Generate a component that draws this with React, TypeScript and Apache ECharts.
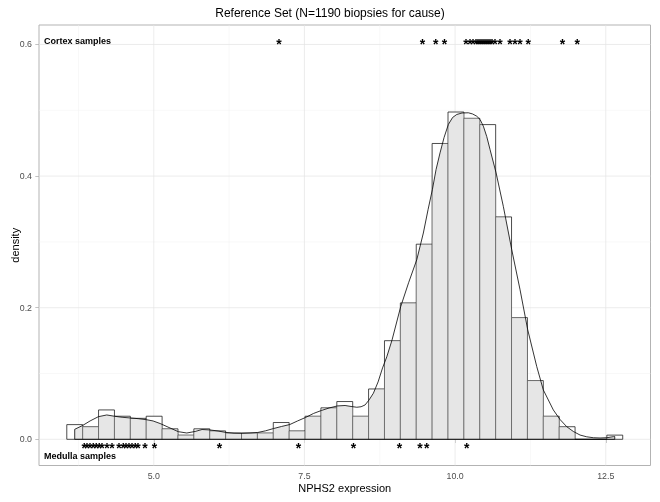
import React, { useEffect, useRef } from "react";
import * as echarts from "echarts";

const FONT = '"Liberation Sans", Arial, Helvetica, sans-serif';
const TITLE = "Reference Set (N=1190 biopsies for cause)";
const X_NAME = "NPHS2 expression";
const Y_NAME = "density";
const CORTEX_LABEL = "Cortex samples";
const MEDULLA_LABEL = "Medulla samples";

// histogram (counts per bin), N from the title
const N_SAMPLES = 1190;
const BIN_START = 3.5565;
const BIN_WIDTH = 0.26357;
const binCounts = [7, 6, 14, 11, 10, 11, 5, 2, 5, 4, 3, 3, 3, 8, 4, 11, 15, 18, 11, 24, 47, 65, 93, 141, 156, 153, 150, 106, 58, 28, 11, 6, 0, 0, 2];

// kernel density estimate
const densityX = [3.688, 3.819, 3.943, 4.081, 4.22, 4.35, 4.474, 4.615, 4.74, 4.877, 4.988, 5.105, 5.27, 5.407, 5.548, 5.685, 5.801, 5.934, 6.067, 6.2, 6.332, 6.465, 6.598, 6.726, 6.855, 6.988, 7.12, 7.258, 7.386, 7.519, 7.651, 7.781, 7.909, 8.046, 8.174, 8.274, 8.368, 8.44, 8.506, 8.572, 8.644, 8.722, 8.796, 8.866, 8.954, 9.098, 9.228, 9.364, 9.473, 9.551, 9.623, 9.684, 9.75, 9.817, 9.888, 9.958, 10.027, 10.115, 10.22, 10.29, 10.359, 10.414, 10.469, 10.525, 10.58, 10.68, 10.8, 10.94, 11.078, 11.205, 11.355, 11.464, 11.63, 11.741, 11.852, 11.962, 12.073, 12.184, 12.294, 12.405, 12.516, 12.626, 12.649];
const densityY = [0.0152, 0.021, 0.0279, 0.0344, 0.037, 0.035, 0.0335, 0.0324, 0.0314, 0.0298, 0.0279, 0.024, 0.0172, 0.0116, 0.0096, 0.0119, 0.0149, 0.0142, 0.0126, 0.0104, 0.0093, 0.0091, 0.0096, 0.0104, 0.0129, 0.0164, 0.0195, 0.0225, 0.0279, 0.0332, 0.0393, 0.0438, 0.0476, 0.0507, 0.0514, 0.0499, 0.0487, 0.0495, 0.0522, 0.0598, 0.07, 0.0872, 0.1085, 0.1253, 0.1511, 0.2018, 0.2379, 0.2729, 0.3135, 0.349, 0.3795, 0.4099, 0.4353, 0.4586, 0.4784, 0.489, 0.4936, 0.4959, 0.4962, 0.4944, 0.491, 0.486, 0.4758, 0.4601, 0.4403, 0.4049, 0.354, 0.2881, 0.2272, 0.1664, 0.1105, 0.075, 0.0446, 0.0301, 0.0192, 0.0119, 0.0065, 0.0038, 0.0024, 0.002, 0.0024, 0.004, 0.0042];

// sample markers
const cortexX = [7.079, 9.457, 9.679, 9.822, 10.182, 10.248, 10.298, 10.348, 10.381, 10.414, 10.447, 10.48, 10.513, 10.546, 10.58, 10.613, 10.663, 10.746, 10.912, 10.995, 11.078, 11.215, 11.78, 12.028];
const medullaX = [3.844, 3.893, 3.943, 3.993, 4.043, 4.093, 4.142, 4.225, 4.308, 4.424, 4.491, 4.54, 4.59, 4.64, 4.69, 4.739, 4.855, 5.01, 6.088, 7.399, 8.312, 9.075, 9.418, 9.53, 10.193];
const CORTEX_Y = 0.6;
const MEDULLA_Y = -0.0125;

// axes
const X_MIN = 3.0953;
const X_MAX = 13.2423;
const Y_MIN = -0.0398;
const Y_MAX = 0.6296;
const xTicks = [5, 7.5, 10, 12.5];
const yTicks = [0, 0.2, 0.4, 0.6];
const xMinor = [3.75, 6.25, 8.75, 11.25];
const yMinor = [0.1, 0.3, 0.5];

const bins = binCounts.map((c, i) => [
  BIN_START + i * BIN_WIDTH,
  BIN_START + (i + 1) * BIN_WIDTH,
  c / (N_SAMPLES * BIN_WIDTH),
]);

const densityPoly: number[][] = [
  [densityX[0], 0],
  ...densityX.map((x, i) => [x, densityY[i]]),
  [densityX[densityX.length - 1], 0],
];

function curveProfile(a: number, b: number): number[][] {
  const out: number[][] = [];
  const first = densityPoly[0][0];
  const last = densityPoly[densityPoly.length - 1][0];
  if (a < first) out.push([a, 0]);
  for (let i = 0; i < densityPoly.length - 1; i++) {
    const [x1, y1] = densityPoly[i];
    const [x2, y2] = densityPoly[i + 1];
    if (x2 === x1) {
      if (x1 >= a && x1 <= b) out.push([x1, y1], [x2, y2]);
      continue;
    }
    const lo = Math.max(a, x1);
    const hi = Math.min(b, x2);
    if (lo > hi) continue;
    const f = (x: number) => y1 + ((y2 - y1) * (x - x1)) / (x2 - x1);
    out.push([lo, f(lo)], [hi, f(hi)]);
  }
  if (b > last) out.push([b, 0]);
  return out;
}

const fillPolys = bins.map(([a, b, h]) => {
  const pts = curveProfile(a, b);
  const res: number[][] = [];
  for (let i = 0; i < pts.length; i++) {
    const p = pts[i];
    if (i > 0) {
      const q = pts[i - 1];
      if ((q[1] - h) * (p[1] - h) < 0 && p[0] !== q[0]) {
        const t = (h - q[1]) / (p[1] - q[1]);
        res.push([q[0] + t * (p[0] - q[0]), h]);
      }
    }
    res.push([p[0], Math.min(p[1], h)]);
  }
  return [[a, 0], ...res, [b, 0]];
});

const densityOutline = [...densityPoly, [densityX[0], 0]];

const gridData = [
  ...xMinor.map((v) => [v, 0, 0, 0]),
  ...yMinor.map((v) => [5, v, 1, 0]),
  ...xTicks.map((v) => [v, 0, 0, 1]),
  ...yTicks.map((v) => [5, v, 1, 1]),
];

export default function App() {
  const ref = useRef<HTMLDivElement>(null);
  useEffect(() => {
    document.body.style.margin = "0";
    if (!ref.current) return;
    const chart = echarts.init(ref.current, undefined, { renderer: "svg" });
    const starItem = (params: any, api: any) => {
      const p = api.coord([api.value(0), api.value(1)]);
      return {
        type: "text",
        x: p[0],
        y: p[1],
        style: {
          text: "*",
          fontSize: 14,
          fontWeight: "bold",
          fontFamily: FONT,
          align: "center",
          verticalAlign: "middle",
          fill: "#000",
        },
      };
    };
    chart.setOption({
      animation: false,
      backgroundColor: "#fff",
      color: ["#000"],
      title: {
        text: TITLE,
        left: "center",
        top: 7,
        padding: 0,
        textStyle: { fontSize: 12, fontWeight: "normal", color: "#000", fontFamily: FONT },
      },
      grid: {
        left: 39,
        right: 9.5,
        top: 25,
        bottom: 36.5,
        containLabel: false,
        outerBoundsMode: "none",
        show: true,
        borderColor: "#b3b3b3",
        borderWidth: 1,
        backgroundColor: "transparent",
      },
      xAxis: {
        type: "value",
        min: X_MIN,
        max: X_MAX,
        name: X_NAME,
        nameLocation: "middle",
        nameGap: 16.5,
        nameMoveOverlap: false,
        nameTextStyle: { fontSize: 11, color: "#000", fontFamily: FONT },
        axisLine: { show: false },
        axisTick: { show: true, customValues: xTicks, length: 3.7, lineStyle: { color: "#b3b3b3", width: 0.8 } },
        axisLabel: {
          customValues: xTicks,
          formatter: (v: number) => v.toFixed(1),
          margin: 5.5,
          fontSize: 8.8,
          color: "#4d4d4d",
          fontFamily: FONT,
        },
        splitLine: { show: false },
      },
      yAxis: {
        type: "value",
        min: Y_MIN,
        max: Y_MAX,
        name: Y_NAME,
        nameLocation: "middle",
        nameRotate: 90,
        nameGap: 19,
        nameMoveOverlap: false,
        nameTextStyle: { fontSize: 11, color: "#000", fontFamily: FONT },
        axisLine: { show: false },
        axisTick: { show: true, customValues: yTicks, length: 3.7, lineStyle: { color: "#b3b3b3", width: 0.8 } },
        axisLabel: {
          customValues: yTicks,
          formatter: (v: number) => v.toFixed(1),
          margin: 7,
          fontSize: 8.8,
          color: "#4d4d4d",
          fontFamily: FONT,
        },
        splitLine: { show: false },
      },
      graphic: [
        {
          type: "text",
          x: 44,
          y: 41,
          z: 100,
          style: { text: CORTEX_LABEL, fontSize: 9, fontWeight: "bold", fontFamily: FONT, fill: "#000", verticalAlign: "middle" },
        },
        {
          type: "text",
          x: 44,
          y: 456,
          z: 100,
          style: { text: MEDULLA_LABEL, fontSize: 9, fontWeight: "bold", fontFamily: FONT, fill: "#000", verticalAlign: "middle" },
        },
      ],
      series: [
        {
          type: "custom",
          name: "grid",
          silent: true,
          z: 1,
          data: gridData,
          renderItem: (params: any, api: any) => {
            const cs = params.coordSys;
            const p = api.coord([api.value(0), api.value(1)]);
            const vertical = api.value(2) === 0;
            const major = api.value(3) === 1;
            const style = { stroke: major ? "#e4e4e4" : "#f1f1f1", lineWidth: major ? 0.7 : 0.5 };
            return vertical
              ? { type: "line", shape: { x1: p[0], y1: cs.y, x2: p[0], y2: cs.y + cs.height }, style }
              : { type: "line", shape: { x1: cs.x, y1: p[1], x2: cs.x + cs.width, y2: p[1] }, style };
          },
        },
        {
          type: "custom",
          name: "histogram",
          silent: true,
          z: 2,
          encode: { x: [0, 1], y: 2 },
          data: bins,
          renderItem: (params: any, api: any) => {
            const p0 = api.coord([api.value(0), 0]);
            const p1 = api.coord([api.value(1), api.value(2)]);
            return {
              type: "rect",
              shape: { x: p0[0], y: p1[1], width: p1[0] - p0[0], height: p0[1] - p1[1] },
              style: { fill: "#fff", stroke: "#111", lineWidth: 0.75 },
            };
          },
        },
        {
          type: "custom",
          name: "fill",
          silent: true,
          z: 3,
          encode: { x: [0, 1], y: 2 },
          data: bins,
          renderItem: (params: any, api: any) => {
            const pts = fillPolys[params.dataIndex].map((pt) => api.coord(pt));
            return {
              type: "polygon",
              shape: { points: pts },
              style: { fill: "rgba(200,200,200,0.45)", stroke: "none" },
            };
          },
        },
        {
          type: "line",
          name: "density",
          silent: true,
          z: 4,
          data: densityOutline,
          symbol: "none",
          showSymbol: false,
          smooth: false,
          lineStyle: { color: "#000", width: 0.8 },
        },
        {
          type: "custom",
          name: "cortex",
          silent: true,
          z: 5,
          data: cortexX.map((x) => [x, CORTEX_Y]),
          renderItem: starItem,
        },
        {
          type: "custom",
          name: "medulla",
          silent: true,
          z: 5,
          data: medullaX.map((x) => [x, MEDULLA_Y]),
          renderItem: starItem,
        },
      ],
    });
    return () => chart.dispose();
  }, []);
  return <div ref={ref} style={{ width: 660, height: 502, filter: "grayscale(1)" }} />;
}
